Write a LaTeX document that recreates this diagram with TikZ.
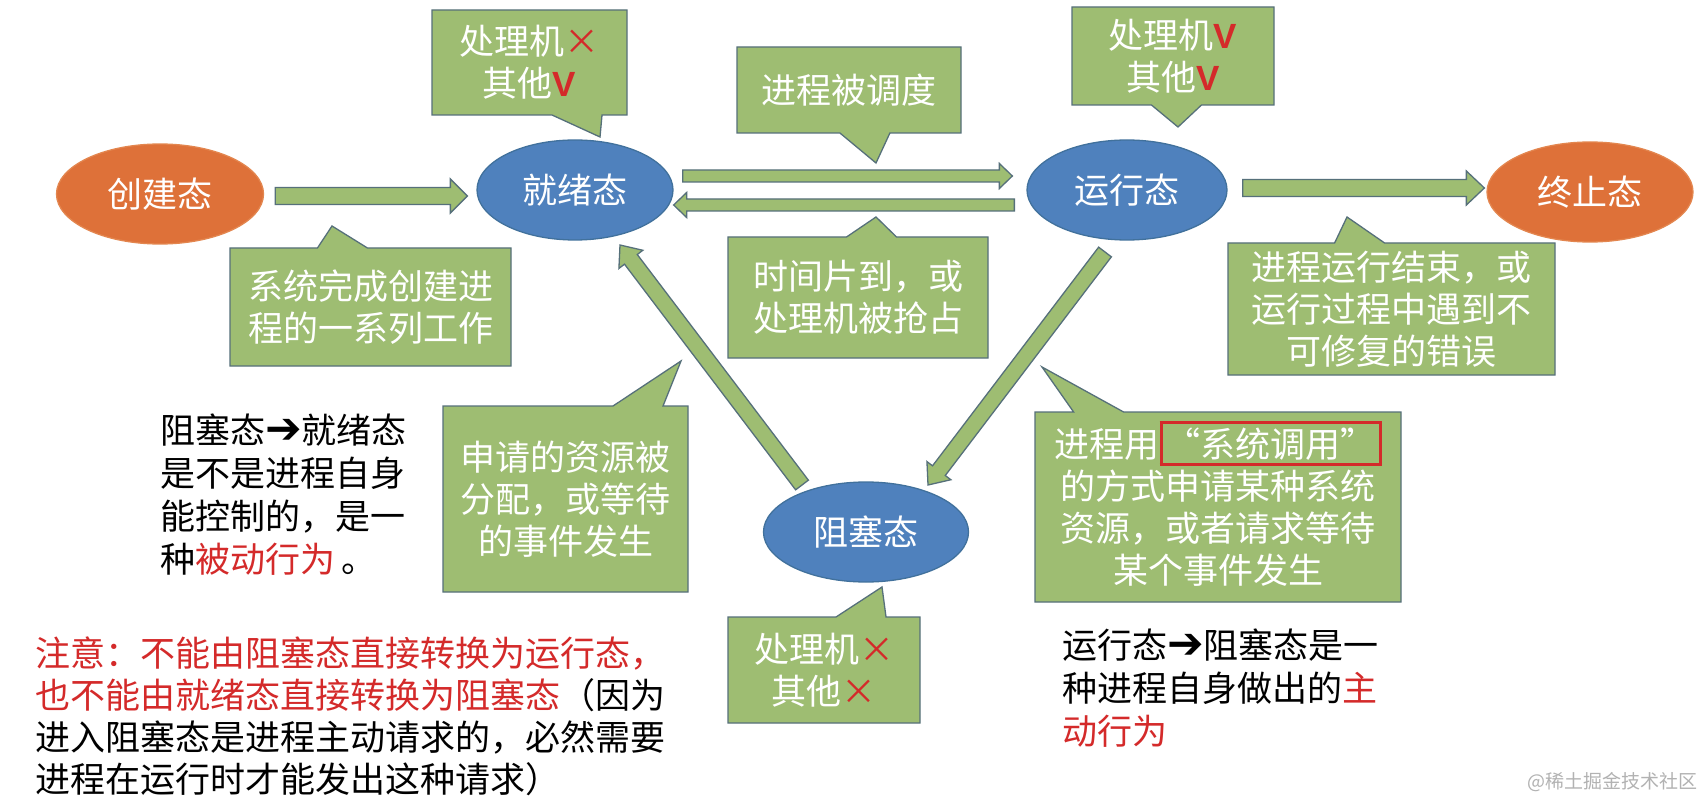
\documentclass[tikz,border=0pt]{standalone}
\usepackage{fontspec}
\usepackage{xcolor}
\usetikzlibrary{shapes.geometric,shapes.callouts,calc,positioning}

\setmainfont{Noto Sans CJK SC}
\newfontfamily\symfont{DejaVu Sans}
\newfontfamily\markfont{Liberation Sans}

\definecolor{stateblue}{HTML}{4F81BD}
\definecolor{stateline}{HTML}{41719C}
\definecolor{stateorange}{HTML}{DE7139}
\definecolor{orangeline}{HTML}{E3864F}
\definecolor{notegreen}{HTML}{9EBD72}
\definecolor{noteline}{HTML}{56707A}
\definecolor{warnred}{HTML}{D42A2A}

\newcommand{\nomark}{{\color{warnred}×}}
\newcommand{\okmark}{{\markfont\bfseries\color{warnred}V}}
\newcommand{\callbox}[1]{\smash{\setlength{\fboxsep}{3pt}\setlength{\fboxrule}{3pt}\fcolorbox{warnred}{notegreen}{#1}}}

% block arrow: from, to, half shaft, half head, head length
\newcommand{\flowarrow}[5]{%
  \coordinate (neck) at ($(#2)!#5!(#1)$);
  \draw[flow] ($(#1)!#3!90:(#2)$) -- ($(neck)!#3!-90:(#1)$) -- ($(neck)!#4!-90:(#1)$)
    -- (#2) -- ($(neck)!#4!90:(#1)$) -- ($(neck)!#3!90:(#1)$) -- ($(#1)!#3!-90:(#2)$) -- cycle;
}

\begin{document}
\begin{tikzpicture}[x=1pt, y=-1pt,
        state/.style={ellipse, fill=stateblue, draw=stateline, line width=1.3pt, minimum width=200pt, minimum height=100pt, text=white, font=\fontsize{35}{42}\selectfont},
        note/.style={rectangle callout, fill=notegreen, draw=noteline, line width=1.3pt, inner sep=0pt, align=center, text=white, callout pointer width=50pt, font=\fontsize{35}{42}\selectfont},
        flow/.style={fill=notegreen, draw=noteline, line width=1.3pt, line join=miter},
        plain/.style={anchor=north west, align=left, inner sep=0pt, font=\fontsize{35}{43}\selectfont}
    ]
        % Canvas
        \path[use as bounding box, fill=white] (0,0) rectangle (1704,799);

        % States
        \node[state, fill=stateorange, draw=orangeline, minimum width=207pt] (create) at (160,194) {创建态};
        \node[state, minimum width=196pt] (ready) at (575,190) {就绪态};
        \node[state] (run) at (1127,190) {运行态};
        \node[state, fill=stateorange, draw=orangeline, minimum width=206pt] (term) at (1590,192) {终止态};
        \node[state, minimum width=205pt] (blocked) at (866,532) {阻塞态};

        % Transitions
        \coordinate (c1) at ($(create.east)+(11,2)$);
        \coordinate (r1) at ($(ready.west)+(-9,6)$);
        \flowarrow{c1}{r1}{8.5pt}{17pt}{17pt}
        \coordinate (r2) at ($(ready.east)+(9,-14)$);
        \coordinate (u2) at ($(run.west)+(-14,-14)$);
        \flowarrow{r2}{u2}{6pt}{12.5pt}{13pt}
        \coordinate (u3) at ($(run.west)+(-12,15)$);
        \coordinate (r3) at ($(ready.east)+(0,15)$);
        \flowarrow{u3}{r3}{6pt}{12.5pt}{13pt}
        \coordinate (u4) at ($(run.east)+(15,-2)$);
        \coordinate (t4) at ($(term.west)+(-2,-4)$);
        \flowarrow{u4}{t4}{8.5pt}{17pt}{18pt}
        \coordinate (b5) at ($(blocked.center)+(-64,-47)$);
        \coordinate (r5) at ($(ready.center)+(45,55)$);
        \flowarrow{b5}{r5}{8pt}{15pt}{18pt}
        \coordinate (u6) at ($(run.center)+(-22,62)$);
        \coordinate (b6) at ($(blocked.center)+(62,-47)$);
        \flowarrow{u6}{b6}{8pt}{15pt}{18pt}

        % Callouts
        \node[note, minimum width=195pt, minimum height=105pt, callout absolute pointer={(600,137)}] (cready) at (529.5,62.5) {处理机\nomark\\其他\okmark};
        \node[note, minimum width=224pt, minimum height=86pt, callout absolute pointer={(876,163)}] (csched) at (849,90) {进程被调度};
        \node[note, minimum width=202pt, minimum height=98pt, callout absolute pointer={(1178,127)}] (crun) at (1173,56) {处理机\okmark\\其他\okmark};
        \node[note, minimum width=281pt, minimum height=118pt, callout absolute pointer={(332,226)}] (ccreate) at (370.5,307) {系统完成创建进\\程的一系列工作};
        \node[note, minimum width=260pt, minimum height=121pt, callout absolute pointer={(876,217)}] (cslice) at (858,297.5) {时间片到，或\\处理机被抢占};
        \node[note, minimum width=327pt, minimum height=132pt, callout absolute pointer={(1347,217)}] (cterm) at (1391.5,309) {进程运行结束，或\\运行过程中遇到不\\可修复的错误};
        \node[note, minimum width=245pt, minimum height=186pt, callout absolute pointer={(681,361)}] (cwait) at (565.5,499) {申请的资源被\\分配，或等待\\的事件发生};
        \node[note, minimum width=366pt, minimum height=190pt, callout absolute pointer={(1042,367)}] (ccall) at (1218,507) {进程用\callbox{“系统调用”}\\的方式申请某种系统\\资源，或者请求等待\\某个事件发生};
        \node[note, minimum width=192pt, minimum height=106pt, callout absolute pointer={(882,587)}] (cblock) at (824,670) {处理机\nomark\\其他\nomark};

        % Remarks
        \node[plain] (passive) at (160,414) {阻塞态{\symfont\scalebox{1.25}{➔}}就绪态\\是不是进程自身\\能控制的，是一\\种{\color{warnred}被动行为}\,。};
        \node[plain, font=\fontsize{35}{42}\selectfont] (warn) at (35,637) {{\color{warnred}注意：不能由阻塞态直接转换为运行态，}\\{\color{warnred}也不能由就绪态直接转换为阻塞态}（因为\\进入阻塞态是进程主动请求的，必然需要\\进程在运行时才能发出这种请求）};
        \node[plain] (active) at (1062,629) {运行态{\symfont\scalebox{1.25}{➔}}阻塞态是一\\种进程自身做出的{\color{warnred}主}\\{\color{warnred}动行为}};

        % Watermark
        \node[anchor=east, inner sep=0pt, text=black!30, font=\fontsize{19}{22}\selectfont] (mark) at (1698,782) {@稀土掘金技术社区};

    \end{tikzpicture}
\end{document}
